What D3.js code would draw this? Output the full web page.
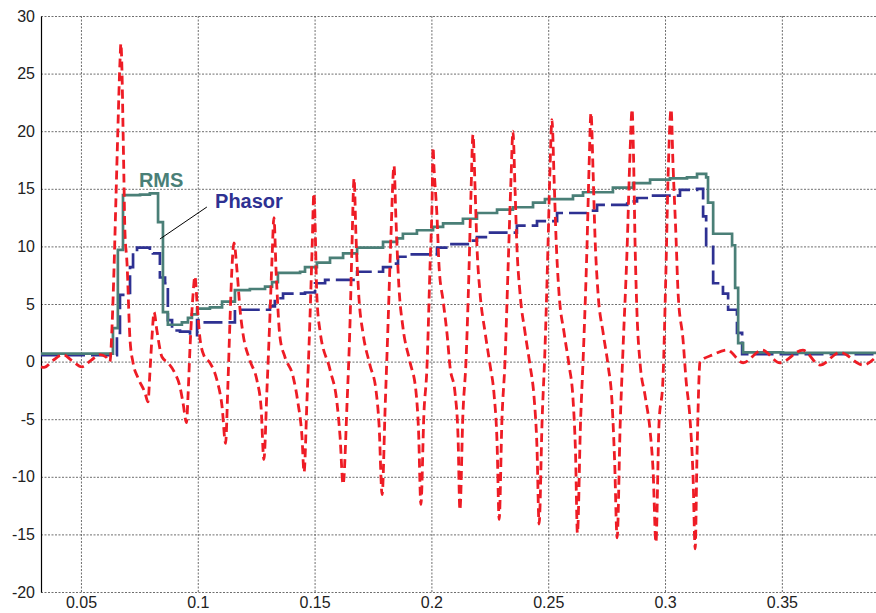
<!DOCTYPE html>
<html>
<head>
<meta charset="utf-8">
<script src="https://cdn.jsdelivr.net/npm/d3@7"></script>
<style>
  body { margin: 0; background: #fff; }
  svg { display: block; }
  text { font-family: "Liberation Sans", Arial, sans-serif; }
</style>
</head>
<body>
<svg id="chart"></svg>
<script>
// tick values
const xTicks = [0.05, 0.1, 0.15, 0.2, 0.25, 0.3, 0.35];
const yTicks = [-20, -15, -10, -5, 0, 5, 10, 15, 20, 25, 30];

// instantaneous current (red dashed), [time, value]
const instant = [
  [0.0329, -0.45], [0.0342, -0.5], [0.0380, 0.1], [0.0423, 0.6], [0.0461, 0.1],
  [0.0504, -0.45], [0.0543, 0.1], [0.0581, 0.6], [0.0607, 0.4], [0.0624, 0.0],
  [0.0633, 3.0], [0.0641, 7.7], [0.0650, 14.3], [0.0658, 20.1], [0.0667, 26.0],
  [0.0671, 27.6], [0.0676, 24.9], [0.0680, 20.4], [0.0684, 15.8], [0.0688, 11.4],
  [0.0697, 8.6], [0.0710, 1.9], [0.0723, -0.1], [0.0744, -1.4], [0.0774, -2.7],
  [0.0787, -3.5], [0.0795, -1.0], [0.0804, 2.1], [0.0813, 4.3], [0.0825, 2.7],
  [0.0847, 0.4], [0.0872, -0.1], [0.0902, -1.0], [0.0924, -2.2], [0.0937, -3.6],
  [0.0952, -5.3], [0.0958, -3.1], [0.0967, 1.3], [0.0979, 5.6], [0.0988, 7.4],
  [0.0997, 5.1], [0.1009, 2.1], [0.1027, 0.5], [0.1052, -0.1], [0.1082, -1.6],
  [0.1104, -3.9], [0.1119, -7.1],
  [0.1129, -2.0], [0.1138, 3.6], [0.1146, 8.0], [0.1155, 10.3],
  [0.1168, 7.9], [0.1181, 4.5], [0.1193, 2.5], [0.1223, 0.1], [0.1253, -1.6],
  [0.1271, -4.0], [0.1283, -8.5],
  [0.1296, -2.5], [0.1309, 4.0], [0.1318, 9.0], [0.1326, 12.5],
  [0.1335, 8.0], [0.1352, 2.1], [0.1373, 0.4], [0.1408, -1.3], [0.1429, -3.6],
  [0.1446, -6.5], [0.1455, -9.6],
  [0.1467, -3.6], [0.1480, 3.6], [0.1489, 9.5], [0.1497, 14.6],
  [0.1510, 5.6], [0.1523, 2.7], [0.1566, -0.7], [0.1596, -3.6], [0.1609, -6.5],
  [0.1622, -10.65],
  [0.1639, -3.6], [0.1652, 3.6], [0.1660, 10.0], [0.1669, 15.9],
  [0.1677, 11.0], [0.1690, 5.5], [0.1707, 2.5], [0.1737, -0.3], [0.1763, -2.5],
  [0.1776, -5.5], [0.1789, -11.55],
  [0.1802, -4.0], [0.1814, 3.0], [0.1827, 11.0], [0.1840, 17.0],
  [0.1848, 12.5], [0.1861, 6.5], [0.1878, 3.0], [0.1908, 0.0], [0.1934, -2.6],
  [0.1945, -6.0], [0.1955, -12.4],
  [0.1968, -4.5], [0.1981, -0.5], [0.1994, 8.2], [0.2003, 14.0], [0.2007, 18.6],
  [0.2011, 16.9], [0.2024, 12.6], [0.2033, 8.2], [0.2050, 5.3], [0.2067, 2.4],
  [0.2080, -0.5], [0.2101, -2.7], [0.2114, -6.5], [0.2122, -12.9],
  [0.2135, -4.5], [0.2148, 0.0], [0.2161, 8.0], [0.2170, 15.0], [0.2178, 19.7],
  [0.2187, 15.0], [0.2195, 10.0], [0.2208, 6.0], [0.2230, 2.5], [0.2251, -0.3],
  [0.2268, -2.8], [0.2281, -7.0], [0.2290, -13.7],
  [0.2302, -5.0], [0.2315, 0.0], [0.2328, 8.0], [0.2341, 16.0], [0.2349, 20.0],
  [0.2358, 15.0], [0.2366, 10.0], [0.2379, 6.0], [0.2401, 2.5], [0.2422, -0.3],
  [0.2439, -3.0], [0.2452, -7.5], [0.2461, -14.1],
  [0.2474, -5.0], [0.2486, 1.0], [0.2499, 10.0], [0.2508, 17.0], [0.2516, 21.0],
  [0.2525, 16.0], [0.2533, 11.0], [0.2546, 6.0], [0.2568, 2.5], [0.2589, -0.3],
  [0.2606, -3.2], [0.2617, -8.0], [0.2625, -14.9],
  [0.2638, -5.5], [0.2651, 1.0], [0.2666, 10.0], [0.2675, 17.0], [0.2683, 21.6],
  [0.2692, 16.5], [0.2700, 11.0], [0.2713, 6.0], [0.2735, 2.5], [0.2756, -0.3],
  [0.2773, -3.5], [0.2784, -8.5], [0.2795, -15.3],
  [0.2808, -5.5], [0.2820, 1.0], [0.2838, 10.0], [0.2850, 18.0], [0.2859, 21.9],
  [0.2865, 18.0], [0.2872, 10.0], [0.2880, 4.2], [0.2893, -0.1], [0.2915, -3.0],
  [0.2936, -6.0], [0.2949, -9.5], [0.2961, -15.7],
  [0.2974, -5.5], [0.2991, -1.6], [0.3004, 8.0], [0.3013, 16.0], [0.3026, 21.9],
  [0.3034, 17.2], [0.3047, 10.8], [0.3056, 5.9], [0.3077, 1.9], [0.3090, -1.6],
  [0.3107, -5.0], [0.3120, -10.0], [0.3129, -16.25],
  [0.3137, -8.0], [0.3150, 0.0], [0.3206, 0.6], [0.3266, 1.0], [0.3334, -0.1],
  [0.3415, 1.0], [0.3492, -0.1], [0.3590, 1.0], [0.3663, -0.3], [0.3749, 0.8],
  [0.3848, -0.3], [0.3903, 0.4]
];

// RMS (green step line), value holds until next time
const rms = [
  [0.0329, 0.7], [0.0637, 2.9], [0.0658, 9.7], [0.0680, 14.45], [0.0753, 14.5],
  [0.0795, 14.6], [0.0830, 12.1], [0.0851, 4.3], [0.0872, 3.2], [0.0932, 3.4],
  [0.0958, 3.8], [0.0975, 4.1], [0.0997, 4.6], [0.1052, 4.7], [0.1104, 5.2],
  [0.1159, 6.2], [0.1223, 6.3], [0.1288, 6.5], [0.1318, 6.9], [0.1343, 7.7],
  [0.1438, 7.8], [0.1459, 8.2], [0.1510, 8.6], [0.1566, 9.0], [0.1622, 9.4],
  [0.1682, 9.9], [0.1793, 10.4], [0.1853, 10.7], [0.1878, 11.1], [0.1938, 11.4],
  [0.2007, 11.7], [0.2050, 12.0], [0.2135, 12.4], [0.2195, 12.9], [0.2281, 13.2],
  [0.2349, 13.4], [0.2435, 13.8], [0.2486, 14.1], [0.2606, 14.4], [0.2649, 14.7],
  [0.2777, 15.1], [0.2863, 15.5], [0.2936, 15.8], [0.3021, 15.9], [0.3094, 16.0],
  [0.3137, 16.3], [0.3176, 16.0], [0.3184, 13.8], [0.3206, 11.1], [0.3287, 10.1],
  [0.3300, 6.4], [0.3313, 1.6], [0.3334, 0.8], [0.3505, 0.75], [0.3903, 0.75]
];

// Phasor magnitude (blue long dash step line)
const phasor = [
  [0.0329, 0.55], [0.0654, 2.5], [0.0667, 5.8], [0.0710, 8.2], [0.0723, 9.5],
  [0.0740, 9.9], [0.0795, 9.6], [0.0808, 9.4], [0.0838, 7.3], [0.0860, 6.8],
  [0.0872, 3.6], [0.0890, 2.7], [0.0924, 2.6], [0.0967, 2.3], [0.0997, 3.6],
  [0.1009, 3.4], [0.1159, 4.5], [0.1309, 4.8], [0.1330, 5.5], [0.1365, 5.9],
  [0.1459, 6.0], [0.1502, 6.8], [0.1545, 7.1], [0.1682, 7.8], [0.1793, 8.2],
  [0.1836, 8.5], [0.1857, 9.1], [0.1908, 9.3], [0.2024, 9.9], [0.2080, 10.2],
  [0.2165, 10.5], [0.2195, 10.8], [0.2251, 11.2], [0.2366, 11.8], [0.2452, 12.2],
  [0.2538, 12.9], [0.2666, 13.1], [0.2709, 13.6], [0.2838, 13.9], [0.2880, 14.2],
  [0.2936, 14.4], [0.3064, 14.9], [0.3137, 15.0], [0.3163, 12.6], [0.3176, 10.1],
  [0.3206, 6.8], [0.3248, 5.9], [0.3270, 4.5], [0.3308, 2.5], [0.3330, 0.65],
  [0.3903, 0.65]
];

// labels and leader line, in data units
const labels = [
  { text: "RMS", t: 0.0748, v: 15.15, color: "#4a7f77" },
  { text: "Phasor", t: 0.1074, v: 13.3, color: "#2e3192" }
];
const leader = [[0.1039, 13.42], [0.0838, 10.64]];

const width = 876, height = 613;
const margin = { top: 16, right: 0, bottom: 21, left: 41 };

const svg = d3.select("#chart")
  .attr("width", width)
  .attr("height", height);

const x = d3.scaleLinear()
  .domain([0.0329, 0.3903])
  .range([margin.left, width - margin.right]);

const y = d3.scaleLinear()
  .domain([-20, 30])
  .range([height - margin.bottom, margin.top]);

// grid
const grid = svg.append("g")
  .attr("stroke", "#6e6e6e")
  .attr("stroke-width", 1)
  .attr("stroke-dasharray", "2,1.5");

grid.selectAll("line.h")
  .data(yTicks)
  .join("line")
  .attr("class", "h")
  .attr("x1", margin.left)
  .attr("x2", width - margin.right)
  .attr("y1", d => y(d) + 0.5)
  .attr("y2", d => y(d) + 0.5);

grid.selectAll("line.v")
  .data(xTicks)
  .join("line")
  .attr("class", "v")
  .attr("x1", d => x(d) + 0.5)
  .attr("x2", d => x(d) + 0.5)
  .attr("y1", y(30))
  .attr("y2", y(-20));

// left axis
svg.append("g")
  .attr("transform", `translate(${margin.left},0)`)
  .call(d3.axisLeft(y).tickValues(yTicks).tickSize(0).tickPadding(6).tickFormat(d => String(d)))
  .call(g => g.select(".domain").attr("stroke", "#000").attr("stroke-width", 1.2))
  .call(g => g.selectAll("text")
    .attr("fill", "#222")
    .style("font-size", "16px")
    .style("font-family", "Liberation Sans, Arial, sans-serif"));

// bottom labels
svg.append("g")
  .attr("transform", `translate(0,${y(-20)})`)
  .call(d3.axisBottom(x).tickValues(xTicks).tickSize(0).tickPadding(5)
    .tickFormat(d => String(+d.toFixed(2))))
  .call(g => g.select(".domain").remove())
  .call(g => g.selectAll("text")
    .attr("fill", "#222")
    .style("font-size", "16px")
    .style("font-family", "Liberation Sans, Arial, sans-serif"));

const plot = svg.append("g");

const stepLine = d3.line()
  .x(d => x(d[0]))
  .y(d => y(d[1]))
  .curve(d3.curveStepAfter);

plot.append("path")
  .datum(phasor)
  .attr("fill", "none")
  .attr("stroke", "#2e3192")
  .attr("stroke-width", 2.7)
  .attr("stroke-dasharray", "19,6")
  .attr("d", stepLine);

plot.append("path")
  .datum(rms)
  .attr("fill", "none")
  .attr("stroke", "#4a7f77")
  .attr("stroke-width", 2.7)
  .attr("d", stepLine);

plot.append("path")
  .datum(instant)
  .attr("fill", "none")
  .attr("stroke", "#ee1c25")
  .attr("stroke-width", 2.8)
  .attr("stroke-dasharray", "9,5")
  .attr("d", d3.line().x(d => x(d[0])).y(d => y(d[1])).curve(d3.curveMonotoneX));

// annotations
svg.append("line")
  .attr("x1", x(leader[0][0])).attr("y1", y(leader[0][1]))
  .attr("x2", x(leader[1][0])).attr("y2", y(leader[1][1]))
  .attr("stroke", "#000")
  .attr("stroke-width", 1);

svg.selectAll("text.lbl")
  .data(labels)
  .join("text")
  .attr("class", "lbl")
  .attr("x", d => x(d.t))
  .attr("y", d => y(d.v))
  .attr("fill", d => d.color)
  .style("font-size", "20px")
  .style("font-weight", "bold")
  .text(d => d.text);
</script>
</body>
</html>
